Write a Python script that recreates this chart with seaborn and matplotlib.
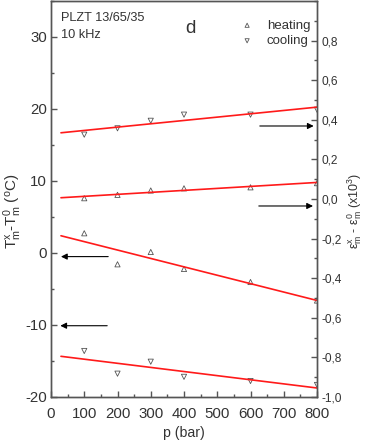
import numpy as np
import pandas as pd
import matplotlib
matplotlib.use("Agg")
import matplotlib.pyplot as plt
from matplotlib.ticker import MultipleLocator, FuncFormatter
import seaborn as sns

# pressure (bar)
pressure = [100, 200, 300, 400, 600, 800]

# strain shift (x10^3), right axis
eps_cooling = [0.325, 0.357, 0.395, 0.426, 0.426, 0.451]
eps_heating = [0.004, 0.021, 0.043, 0.054, 0.059, 0.080]

# temperature shift (C), left axis
tm_heating = [2.74, -1.57, 0.14, -2.22, -4.03, -6.6]
tm_cooling = [-13.61, -16.76, -15.1, -17.2, -17.78, -18.33]

fit_range = [30, 800]

sns.set_theme(style="ticks")
plt.rcParams['font.family'] = ['Liberation Sans', 'DejaVu Sans']
plt.rcParams['mathtext.fontset'] = 'custom'
plt.rcParams['mathtext.rm'] = 'Liberation Sans'
plt.rcParams['mathtext.it'] = 'Liberation Sans'

fig = plt.figure(figsize=(3.68, 4.43), dpi=100)
ax = fig.add_axes([51 / 368, 46 / 443, 266 / 368, 396 / 443])
ax2 = ax.twinx()

mk = dict(facecolors="none", edgecolors="#555555", s=14, linewidths=0.6)


def fit_line(axis, x, y):
    k, b = np.polyfit(x, y, 1)
    xs = np.array(fit_range)
    sns.lineplot(x=xs, y=k * xs + b, ax=axis, color="#ff1a1a", lw=1.2)


# left axis series
sns.scatterplot(x=pressure, y=tm_heating, ax=ax, marker="^", **mk)
sns.scatterplot(x=pressure, y=tm_cooling, ax=ax, marker="v", **mk)
fit_line(ax, pressure, tm_heating)
fit_line(ax, pressure, tm_cooling)

# right axis series
sns.scatterplot(x=pressure, y=eps_heating, ax=ax2, marker="^", label="heating", **mk)
sns.scatterplot(x=pressure, y=eps_cooling, ax=ax2, marker="v", label="cooling", **mk)
fit_line(ax2, pressure, eps_heating)
fit_line(ax2, pressure, eps_cooling)

ax.set_xlim(0, 800)
ax.set_ylim(-20, 35)
ax2.set_ylim(-1.0, 1.0)

ax.xaxis.set_major_locator(MultipleLocator(100))
ax.xaxis.set_minor_locator(MultipleLocator(50))
ax.yaxis.set_major_locator(MultipleLocator(10))
ax.yaxis.set_minor_locator(MultipleLocator(5))
ax2.set_yticks(np.arange(-1.0, 0.81, 0.2))
ax2.yaxis.set_minor_locator(MultipleLocator(0.1))
ax2.yaxis.set_major_formatter(FuncFormatter(lambda v, p: f"{v:.1f}".replace(".", ",").replace("-0,0", "0,0")))
ax.yaxis.set_major_formatter(FuncFormatter(lambda v, p: f"{v:.0f}"))

spine_c = "#555555"
for a in (ax, ax2):
    for s in a.spines.values():
        s.set_color(spine_c)
        s.set_linewidth(1.0)
    a.tick_params(which="both", direction="in", color=spine_c, width=1.0,
                  labelcolor="#333333")
    a.tick_params(which="major", length=4)
    a.tick_params(which="minor", length=2.5)
ax.tick_params(axis="y", labelsize=10.8, pad=3)
ax.tick_params(axis="x", labelsize=10.8, pad=7)
ax2.tick_params(axis="y", labelsize=8.6, pad=3)

ax.set_xlabel("p (bar)", fontsize=10.2, color="#333333", labelpad=4)
ax.set_ylabel(r"T$_\mathregular{m}^\mathregular{x}$-T$_\mathregular{m}^\mathregular{0}$ ($^\mathregular{o}$C)",
              fontsize=11, color="#333333")
ax.yaxis.set_label_coords(-0.1, 0.47)
ax2.set_ylabel(r"ε$_\mathregular{m}^\mathregular{x}$ - ε$_\mathregular{m}^\mathregular{0}$ (x10$^\mathregular{3}$)",
               fontsize=9, color="#333333", rotation=90)
ax2.yaxis.set_label_coords(1.108, 0.47)

ax.text(0.038, 0.957, "PLZT 13/65/35", transform=ax.transAxes, fontsize=9.2,
        color="#333333", va="center")
ax.text(0.038, 0.915, "10 kHz", transform=ax.transAxes, fontsize=9.2,
        color="#333333", va="center")
ax.text(0.523, 0.93, "d", transform=ax.transAxes, fontsize=13.5,
        color="#333333", va="center", ha="center")

leg = ax2.legend(loc="upper right", bbox_to_anchor=(1.0, 0.97), frameon=False,
                 fontsize=9.5, handletextpad=0.5, labelspacing=0.25,
                 markerscale=0.8, borderaxespad=0.1)
for t in leg.get_texts():
    t.set_color("#333333")

arrow = dict(arrowstyle="-|>", color="black", lw=0.8, mutation_scale=9,
             shrinkA=0, shrinkB=0)
ax.annotate("", xy=(790, 17.64), xytext=(628, 17.64), arrowprops=arrow)
ax.annotate("", xy=(788, 6.53), xytext=(625, 6.53), arrowprops=arrow)
ax.annotate("", xy=(30, -0.5), xytext=(172, -0.5), arrowprops=arrow)
ax.annotate("", xy=(28, -10.1), xytext=(169, -10.1), arrowprops=arrow)

fig.savefig("out.png", dpi=100)
